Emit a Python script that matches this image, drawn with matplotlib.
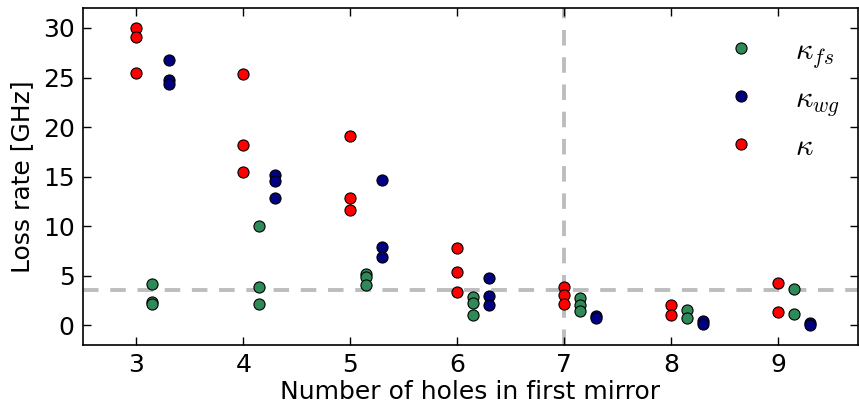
import numpy as np
import matplotlib
matplotlib.use('Agg')
import matplotlib.pyplot as plt

plt.rcParams['mathtext.fontset'] = 'cm'

# ---- data ----
holes = [3, 4, 5, 6, 7, 8, 9]
kappa_fs = [
    [4.2, 2.35, 2.2],
    [10.07, 3.9, 2.2],
    [5.15, 4.9, 4.05],
    [2.9, 2.3, 1.0],
    [2.75, 2.05, 1.4],
    [1.55, 0.75],
    [3.65, 1.1],
]
kappa_wg = [
    [26.8, 24.8, 24.3],
    [15.15, 14.6, 12.8],
    [14.65, 7.9, 6.85],
    [4.8, 2.95, 2.05],
    [0.95, 0.7],
    [0.4, 0.1],
    [0.25, 0.0],
]
kappa = [
    [30.0, 29.1, 25.5],
    [25.4, 18.15, 15.45],
    [19.05, 12.85, 11.6],
    [7.8, 5.4, 3.35],
    [3.85, 3.1, 2.15],
    [2.05, 1.0],
    [4.25, 1.3],
]
h_line = 3.55
v_line = 7

fig = plt.figure(figsize=(8.59, 4.07), dpi=100)
ax = fig.add_axes([0.0966, 0.152, 0.9024, 0.828])

ax.axhline(h_line, color='#bdbdbd', ls='--', lw=2.8, dashes=(4, 3), zorder=1)
ax.axvline(v_line, color='#bdbdbd', ls='--', lw=2.8, dashes=(4, 3), zorder=1)


def flat(groups, offset):
    xs, ys = [], []
    for h, vals in zip(holes, groups):
        xs += [h + offset] * len(vals)
        ys += vals
    return xs, ys


series = [
    (kappa_fs, 0.15, '#2e8b57', r'$\kappa_{fs}$'),
    (kappa_wg, 0.30, '#000080', r'$\kappa_{wg}$'),
    (kappa, 0.0, '#ff0000', r'$\kappa$'),
]
for groups, off, col, lab in series:
    xs, ys = flat(groups, off)
    ax.plot(xs, ys, 'o', color=col, mec='k', mew=0.8, ms=8, label=lab, zorder=3)

ax.set_xlim(2.5, 9.75)
ax.set_ylim(-2, 32)
ax.set_xticks(holes)
ax.set_yticks([0, 5, 10, 15, 20, 25, 30])
ax.tick_params(direction='in', length=6, width=1, top=True, right=True, labelsize=18, pad=6)
for s in ax.spines.values():
    s.set_linewidth(1.2)
ax.set_xlabel('Number of holes in first mirror', fontsize=18, labelpad=2)
ax.set_ylabel('Loss rate [GHz]', fontsize=18, labelpad=6)

leg = ax.legend(loc='upper right', bbox_to_anchor=(1.012, 1.0), frameon=False,
                numpoints=1, fontsize=22, labelspacing=0.45, handletextpad=0.75,
                markerscale=1.0)

fig.savefig('out.png', dpi=100)
